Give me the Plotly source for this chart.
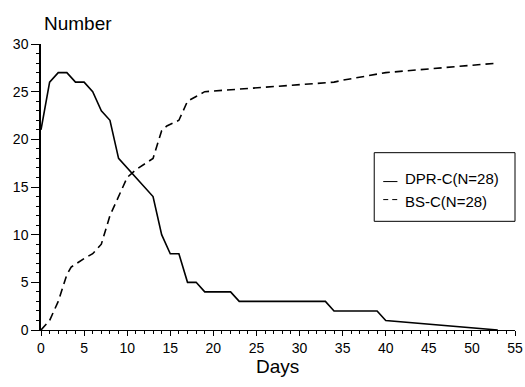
import plotly.graph_objects as go

# Data
dpr_days = [0, 1, 2, 3, 4, 5, 6, 7, 8, 9, 13, 14, 15, 16, 17, 18, 19, 22, 23, 33, 34, 39, 40, 53]
dpr_vals = [21, 26, 27, 27, 26, 26, 25, 23, 22, 18, 14, 10, 8, 8, 5, 5, 4, 4, 3, 3, 2, 2, 1, 0]

bs_days = [0, 1, 2, 3, 3.5, 5, 6, 7, 8, 9, 10, 11, 12, 13, 14, 14.6, 16, 17, 18, 19, 34, 35, 40, 53]
bs_vals = [0, 1, 3, 5.8, 6.6, 7.5, 8, 9, 12, 14, 16, 16.8, 17.4, 18, 20.9, 21.4, 22, 24, 24.5, 25, 26, 26.2, 27, 28]

series_names = ["DPR-C(N=28)", "BS-C(N=28)"]
x_ticks = [0, 5, 10, 15, 20, 25, 30, 35, 40, 45, 50, 55]
y_ticks = [0, 5, 10, 15, 20, 25, 30]

FONT = "Liberation Sans, Arial, Helvetica, sans-serif"

fig = go.Figure()
fig.add_trace(go.Scatter(x=dpr_days, y=dpr_vals, mode="lines", name=series_names[0],
                         line=dict(color="black", width=1.6), showlegend=False))
fig.add_trace(go.Scatter(x=bs_days, y=bs_vals, mode="lines", name=series_names[1],
                         line=dict(color="black", width=1.6, dash="8px,5px"), showlegend=False))

fig.update_layout(
    width=525, height=387,
    margin=dict(l=41, r=10, t=44, b=57),
    paper_bgcolor="white", plot_bgcolor="white",
    font=dict(family=FONT, color="black", size=14),
    xaxis=dict(range=[0, 55], tickvals=x_ticks, showgrid=False, zeroline=False,
               automargin=False,
               showline=True, linecolor="black", linewidth=1,
               ticks="outside", ticklen=5, tickcolor="black",
               minor=dict(dtick=1, ticks="outside", ticklen=3, tickcolor="black"),
               tickfont=dict(size=14)),
    yaxis=dict(range=[0, 30], tickvals=y_ticks, showgrid=False, zeroline=False,
               automargin=False,
               showline=True, linecolor="black", linewidth=1.5,
               ticks="outside", ticklen=8, tickcolor="black",
               minor=dict(dtick=1, ticks="outside", ticklen=3, tickcolor="black"),
               tickfont=dict(size=14)),
)

# Axis titles
fig.add_annotation(text="Number", xref="paper", yref="paper", x=0.003, y=1.073,
                   xanchor="left", yanchor="middle", showarrow=False, font=dict(size=19))
fig.add_annotation(text="Days", xref="paper", yref="paper", x=0.499, y=-0.129,
                   xanchor="center", yanchor="middle", showarrow=False, font=dict(size=19))

# Custom legend box
fig.add_shape(type="rect", xref="paper", yref="paper", x0=0.703, x1=1.0, y0=0.380, y1=0.620,
              line=dict(color="black", width=1), fillcolor="white", layer="above")
fig.add_shape(type="line", xref="paper", yref="paper", x0=0.722, x1=0.752, y0=0.519, y1=0.519,
              line=dict(color="black", width=1))
fig.add_shape(type="line", xref="paper", yref="paper", x0=0.722, x1=0.752, y0=0.456, y1=0.456,
              line=dict(color="black", width=1, dash="5px,4px"))
fig.add_annotation(text=series_names[0], xref="paper", yref="paper", x=0.764, y=0.530,
                   xanchor="left", yanchor="middle", showarrow=False, font=dict(size=15))
fig.add_annotation(text=series_names[1], xref="paper", yref="paper", x=0.764, y=0.449,
                   xanchor="left", yanchor="middle", showarrow=False, font=dict(size=15))

fig.write_html("out.html")
